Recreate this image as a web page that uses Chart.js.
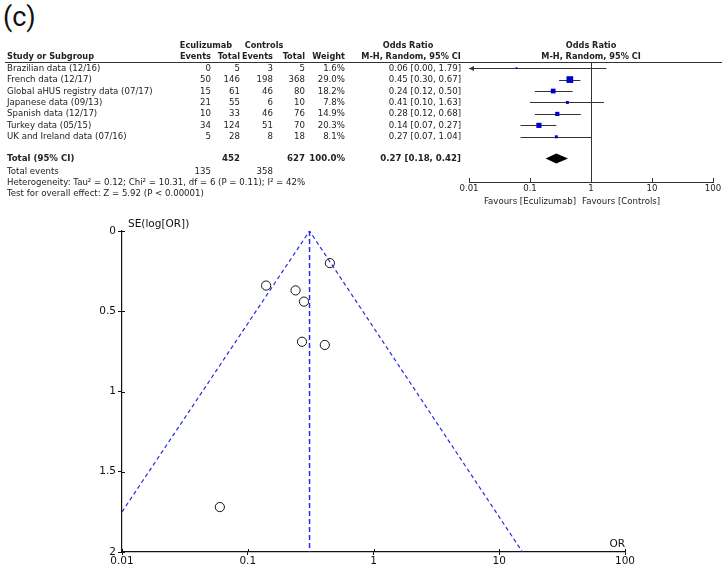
<!DOCTYPE html>
<html>
<head>
<meta charset="utf-8">
<script src="https://cdn.jsdelivr.net/npm/chart.js@4.4.0/dist/chart.umd.min.js"></script>
<style>
  body { margin: 0; width: 728px; height: 572px; background: #fff; position: relative; overflow: hidden; font-family: 'DejaVu Sans', sans-serif; }
  .t { position: absolute; font-size: 8.6px; line-height: 11px; height: 11px; white-space: nowrap; color: #222; }
  .h { font-size: 8.2px; font-weight: bold; }
  .big { position: absolute; font-size: 10.5px; line-height: 12px; white-space: nowrap; color: #111; }
  canvas { position: absolute; left: 0; }
</style>
</head>
<body>
<div style="position:absolute;left:3px;top:1px;font-family:Roboto,sans-serif;font-size:27px;color:#111;">(c)</div>
<div style="position:absolute;left:5px;top:62px;width:717px;border-top:1px solid #333;"></div>
<canvas id="forest" width="728" height="200" style="top:0"></canvas>
<canvas id="funnel" width="728" height="372" style="top:200px"></canvas>
<div id="table"></div>
<script>
// study data
const studies = ['Brazilian data (12/16)', 'French data (12/17)', 'Global aHUS registry data (07/17)',
  'Japanese data (09/13)', 'Spanish data (12/17)', 'Turkey data (05/15)', 'UK and Ireland data (07/16)'];
const ecuEvents = [0, 50, 15, 21, 10, 34, 5];
const ecuTotal = [5, 146, 61, 55, 33, 124, 28];
const ctlEvents = [3, 198, 46, 6, 46, 51, 8];
const ctlTotal = [5, 368, 80, 10, 76, 70, 18];
const weights = [1.6, 29.0, 18.2, 7.8, 14.9, 20.3, 8.1];
const orVal = [0.06, 0.45, 0.24, 0.41, 0.28, 0.14, 0.27];
const orLow = [0.00, 0.30, 0.12, 0.10, 0.12, 0.07, 0.07];
const orHigh = [1.79, 0.67, 0.50, 1.63, 0.68, 0.27, 1.04];
const totalOR = [0.27, 0.18, 0.42];
const totalN = [452, 627];
const totalEvents = [135, 358];
const orTicks = [0.01, 0.1, 1, 10, 100];

// funnel plot
const funnelSE = [1.72, 0.20, 0.37, 0.71, 0.44, 0.34, 0.69];
const seTicks = [0, 0.5, 1, 1.5, 2];
const pooledOR = 0.31;
const boundOR = [0.01, 0.31, 15.3];
const boundSE = [1.75, 0, 2];

const rowH = 11.44;
const rowY = i => 63 + (i + 0.45) * rowH;
const totalRow = 7.9;

function put(txt, x, cy, align, cls) {
  const d = document.createElement('div');
  d.className = 't' + (cls ? ' ' + cls : '');
  d.textContent = txt;
  if (align === 'right') { d.style.left = (x - 200) + 'px'; d.style.width = '200px'; d.style.textAlign = 'right'; }
  else if (align === 'center') { d.style.left = (x - 100) + 'px'; d.style.width = '200px'; d.style.textAlign = 'center'; }
  else d.style.left = x + 'px';
  d.style.top = (cy - 5.5) + 'px';
  if (cls === 'b') d.style.fontWeight = 'bold';
  document.getElementById('table').appendChild(d);
}
const fmt = v => v.toFixed(2);

// headers
put('Eculizumab', 206, 45, 'center', 'h');
put('Controls', 264, 45, 'center', 'h');
put('Odds Ratio', 408, 45, 'center', 'h');
put('Odds Ratio', 591, 45, 'center', 'h');
put('Study or Subgroup', 7, 56.5, 'left', 'h');
put('Events', 211, 56.5, 'right', 'h');
put('Total', 240, 56.5, 'right', 'h');
put('Events', 273, 56.5, 'right', 'h');
put('Total', 305, 56.5, 'right', 'h');
put('Weight', 345, 56.5, 'right', 'h');
put('M-H, Random, 95% CI', 411, 56.5, 'center', 'h');
put('M-H, Random, 95% CI', 591, 56.5, 'center', 'h');

studies.forEach((s, i) => {
  const y = rowY(i);
  put(s, 7, y, 'left');
  put(String(ecuEvents[i]), 211, y, 'right');
  put(String(ecuTotal[i]), 240, y, 'right');
  put(String(ctlEvents[i]), 273, y, 'right');
  put(String(ctlTotal[i]), 305, y, 'right');
  put(weights[i].toFixed(1) + '%', 345, y, 'right');
  put(fmt(orVal[i]) + ' [' + fmt(orLow[i]) + ', ' + fmt(orHigh[i]) + ']', 461, y, 'right');
});
put('Total (95% CI)', 7, rowY(totalRow), 'left', 'b');
put(String(totalN[0]), 240, rowY(totalRow), 'right', 'b');
put(String(totalN[1]), 305, rowY(totalRow), 'right', 'b');
put('100.0%', 345, rowY(totalRow), 'right', 'b');
put(fmt(totalOR[0]) + ' [' + fmt(totalOR[1]) + ', ' + fmt(totalOR[2]) + ']', 461, rowY(totalRow), 'right', 'b');
put('Total events', 7, rowY(9), 'left');
put(String(totalEvents[0]), 211, rowY(9), 'right');
put(String(totalEvents[1]), 273, rowY(9), 'right');
put('Heterogeneity: Tau\u00b2 = 0.12; Chi\u00b2 = 10.31, df = 6 (P = 0.11); I\u00b2 = 42%', 7, rowY(10), 'left');
put('Test for overall effect: Z = 5.92 (P < 0.00001)', 7, rowY(11), 'left');
put('Favours [Eculizumab]', 576, 201.5, 'right');
put('Favours [Controls]', 582, 201.5, 'left');

Chart.defaults.font.family = "'DejaVu Sans', sans-serif";
Chart.defaults.color = '#222';

// forest plot marks
const forestMarks = {
  id: 'forestMarks',
  beforeDatasetsDraw(chart) {
    const { ctx, chartArea, scales: { x, y } } = chart;
    ctx.save();
    ctx.strokeStyle = '#333';
    ctx.lineWidth = 1;
    // line of no effect
    const x1 = Math.round(x.getPixelForValue(1)) + 0.5;
    ctx.beginPath(); ctx.moveTo(x1, chartArea.top); ctx.lineTo(x1, chartArea.bottom); ctx.stroke();
    // upward ticks
    orTicks.forEach(v => {
      const px = Math.round(x.getPixelForValue(v)) + 0.5;
      ctx.beginPath(); ctx.moveTo(px, chartArea.bottom - 4); ctx.lineTo(px, chartArea.bottom + 1); ctx.stroke();
    });
    // confidence intervals
    orVal.forEach((v, i) => {
      const py = Math.round(y.getPixelForValue(i)) + 0.5;
      const clipped = orLow[i] < x.min;
      const lo = clipped ? chartArea.left : x.getPixelForValue(orLow[i]);
      const hi = x.getPixelForValue(orHigh[i]);
      ctx.beginPath(); ctx.moveTo(lo, py); ctx.lineTo(hi, py); ctx.stroke();
      if (clipped) {
        ctx.fillStyle = '#333';
        ctx.beginPath(); ctx.moveTo(lo, py); ctx.lineTo(lo + 5, py - 2.5); ctx.lineTo(lo + 5, py + 2.5); ctx.closePath(); ctx.fill();
      }
    });
    // pooled diamond
    const ty = y.getPixelForValue(totalRow);
    ctx.fillStyle = '#000';
    ctx.beginPath();
    ctx.moveTo(x.getPixelForValue(totalOR[1]), ty);
    ctx.lineTo(x.getPixelForValue(totalOR[0]), ty - 5);
    ctx.lineTo(x.getPixelForValue(totalOR[2]), ty);
    ctx.lineTo(x.getPixelForValue(totalOR[0]), ty + 5);
    ctx.closePath(); ctx.fill();
    ctx.restore();
  }
};

new Chart(document.getElementById('forest'), {
  type: 'scatter',
  data: {
    datasets: [{
      data: orVal.map((v, i) => ({ x: v, y: i })),
      pointStyle: 'rect',
      pointRadius: weights.map(w => (1.5 + w * 0.18) / 1.414),
      backgroundColor: '#0000cc',
      borderColor: '#0000cc',
      borderWidth: 0
    }]
  },
  options: {
    responsive: false,
    animation: false,
    devicePixelRatio: 1,
    layout: { padding: { left: 469, right: 15, top: 63, bottom: 0 } },
    plugins: { legend: { display: false }, tooltip: { enabled: false } },
    scales: {
      x: {
        type: 'logarithmic', min: 0.01, max: 100,
        afterBuildTicks: s => { s.ticks = orTicks.map(v => ({ value: v })); },
        afterFit: s => { s.height = 18; },
        ticks: { font: { size: 8.6 }, padding: 2, maxRotation: 0, callback: v => String(v) },
        grid: { drawOnChartArea: false, drawTicks: false },
        border: { color: '#333', width: 1 }
      },
      y: { type: 'linear', min: -0.45, max: 9.95, reverse: true, display: false }
    }
  },
  plugins: [forestMarks]
});

// inward half of the funnel axis ticks
const crossTicks = {
  id: 'crossTicks',
  afterDraw(chart) {
    const { ctx, chartArea, scales: { x, y } } = chart;
    ctx.save();
    ctx.strokeStyle = '#111';
    ctx.lineWidth = 1;
    orTicks.forEach(v => {
      const px = Math.round(x.getPixelForValue(v)) + 0.5;
      ctx.beginPath(); ctx.moveTo(px, chartArea.bottom - 3); ctx.lineTo(px, chartArea.bottom); ctx.stroke();
    });
    seTicks.forEach(v => {
      const py = Math.round(y.getPixelForValue(v)) + 0.5;
      ctx.beginPath(); ctx.moveTo(chartArea.left, py); ctx.lineTo(chartArea.left + 3, py); ctx.stroke();
    });
    ctx.restore();
  }
};

new Chart(document.getElementById('funnel'), {
  type: 'scatter',
  data: {
    datasets: [
      {
        data: boundOR.map((v, i) => ({ x: v, y: boundSE[i] })),
        showLine: true, pointRadius: 0, borderColor: '#2a2ae6', borderWidth: 1.2, borderDash: [4, 3]
      },
      {
        data: [{ x: pooledOR, y: seTicks[0] }, { x: pooledOR, y: seTicks[seTicks.length - 1] }],
        showLine: true, pointRadius: 0, borderColor: '#2a2ae6', borderWidth: 1.5, borderDash: [5, 3]
      },
      {
        data: orVal.map((v, i) => ({ x: v, y: funnelSE[i] })),
        pointRadius: 4.6, pointStyle: 'circle',
        backgroundColor: 'rgba(0,0,0,0)', borderColor: '#111', borderWidth: 1
      }
    ]
  },
  options: {
    responsive: false,
    animation: false,
    devicePixelRatio: 1,
    layout: { padding: { left: 0, right: 103, top: 31, bottom: 0 } },
    plugins: { legend: { display: false }, tooltip: { enabled: false } },
    scales: {
      x: {
        type: 'logarithmic', min: 0.01, max: 100,
        afterBuildTicks: s => { s.ticks = orTicks.map(v => ({ value: v })); },
        afterFit: s => { s.height = 20; },
        ticks: { font: { size: 10.5 }, padding: 0, maxRotation: 0, color: '#111', callback: v => String(v) },
        grid: { drawOnChartArea: false, tickLength: 3, color: '#111' },
        border: { color: '#111', width: 1.2 }
      },
      y: {
        type: 'linear', min: 0, max: 2, reverse: true,
        afterBuildTicks: s => { s.ticks = seTicks.map(v => ({ value: v })); },
        afterFit: s => { s.width = 122; },
        ticks: { font: { size: 10.5 }, padding: 2, color: '#111', callback: v => String(v) },
        grid: { drawOnChartArea: false, tickLength: 4, color: '#111' },
        border: { color: '#111', width: 1.2 }
      }
    }
  },
  plugins: [crossTicks]
});
</script>
<div class="big" style="left:128px;top:217px;">SE(log[OR])</div>
<div class="big" style="left:585px;top:537px;width:40px;text-align:right;">OR</div>
</body>
</html>
